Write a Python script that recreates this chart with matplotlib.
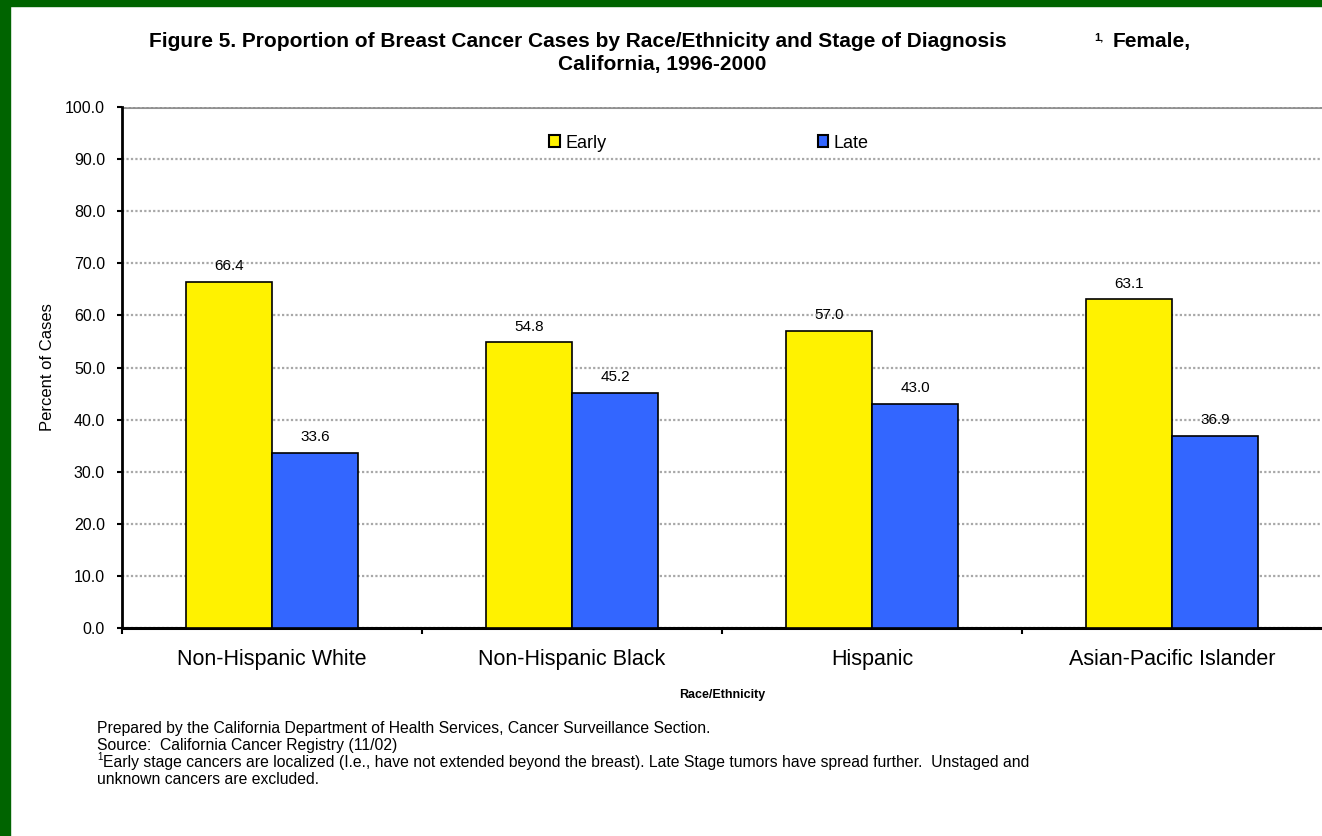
import matplotlib.pyplot as plt
import numpy as np
from matplotlib.patches import Patch, Rectangle

plt.rcParams['font.family'] = ['Liberation Sans', 'DejaVu Sans']

groups = ['Non-Hispanic White', 'Non-Hispanic Black', 'Hispanic', 'Asian-Pacific Islander']
early = [66.4, 54.8, 57.0, 63.1]
late = [33.6, 45.2, 43.0, 36.9]
yticks = np.arange(0, 100.1, 10)

W, H = 1322, 836


def fx(px):
    return px / W


def fy(py):
    return 1 - py / H


fig = plt.figure(figsize=(W / 100, H / 100), dpi=100)
# green frame on the left and top edges
fig.patches.append(Rectangle((0, 0), fx(10), 1, transform=fig.transFigure,
                             color='#006400', zorder=0))
fig.patches.append(Rectangle((0, fy(6)), 1, 6 / H, transform=fig.transFigure,
                             color='#006400', zorder=0))

ax = fig.add_axes([fx(122), fy(628), fx(1200), 521 / H])

x = np.arange(len(groups))
w = 0.287
b1 = ax.bar(x - w / 2, early, w, color='#FFF200', edgecolor='black', linewidth=1.2, zorder=3)
b2 = ax.bar(x + w / 2, late, w, color='#3366FF', edgecolor='black', linewidth=1.2, zorder=3)

for bars, vals in ((b1, early), (b2, late)):
    for r, v in zip(bars, vals):
        ax.text(r.get_x() + r.get_width() / 2, v + 3.0, '%.1f' % v,
                ha='center', va='center', fontsize=11)

ax.set_xlim(-0.5, 3.5)
ax.set_ylim(0, 100)
ax.set_yticks(yticks)
ax.set_yticklabels(['%.1f' % t for t in yticks], fontsize=11.5)
ax.set_xticks(x)
ax.set_xticklabels(groups, fontsize=15.5)
ax.tick_params(axis='x', length=0, pad=15)
ax.set_xticks([-0.5, 0.5, 1.5, 2.5], minor=True)
ax.tick_params(axis='x', which='minor', length=4, width=1.5, direction='out')
ax.tick_params(axis='y', length=3.6, width=1.5, direction='out', pad=8.6)

ax.yaxis.grid(True, color='#A8A8A8', linestyle=(0, (1, 1)), linewidth=1.6, zorder=0)
ax.axhline(100, color='#909090', linewidth=2.2, zorder=1)
for s in ('top', 'right'):
    ax.spines[s].set_visible(False)
ax.spines['left'].set_linewidth(2)
ax.spines['bottom'].set_linewidth(2.2)

ax.set_xlabel('Race/Ethnicity', fontsize=9, fontweight='bold', labelpad=13.5)
ax.set_ylabel('Percent of Cases', fontsize=12, labelpad=7)

ax.legend(handles=[Patch(facecolor='#FFF200', edgecolor='black', linewidth=1.5, label='Early'),
                   Patch(facecolor='#3366FF', edgecolor='black', linewidth=1.5, label='Late')],
          loc='center left', bbox_to_anchor=((540 - 122) / 1200, (628 - 143) / 521),
          ncol=2, frameon=False, borderpad=0, fontsize=13,
          handlelength=0.6, handleheight=0.6, handletextpad=0.3, columnspacing=11.7)

# two-line title with the footnote marker before "Female,"
fig.text(fx(149), fy(47), 'Figure 5. Proportion of Breast Cancer Cases by Race/Ethnicity and Stage of Diagnosis',
         ha='left', va='baseline', fontsize=15, fontweight='bold')
fig.text(fx(1094), fy(41), '1,', ha='left', va='baseline', fontsize=8, fontweight='bold')
fig.text(fx(1113), fy(47), 'Female,', ha='left', va='baseline', fontsize=15, fontweight='bold')
fig.text(fx(662), fy(70), 'California, 1996-2000',
         ha='center', va='baseline', fontsize=15, fontweight='bold')

notes = ['Prepared by the California Department of Health Services, Cancer Surveillance Section.',
         'Source:  California Cancer Registry (11/02)',
         'Early stage cancers are localized (I.e., have not extended beyond the breast). Late Stage tumors have spread further.  Unstaged and',
         'unknown cancers are excluded.']
note_y = [728, 745.5, 762.5, 779]
for i, (t, yy) in enumerate(zip(notes, note_y)):
    xx = 103 if i == 2 else 97
    fig.text(fx(xx), fy(yy), t, ha='left', va='center', fontsize=11.3)
fig.text(fx(97), fy(757), '1', ha='left', va='center', fontsize=7)

fig.savefig('out.png', dpi=100)
